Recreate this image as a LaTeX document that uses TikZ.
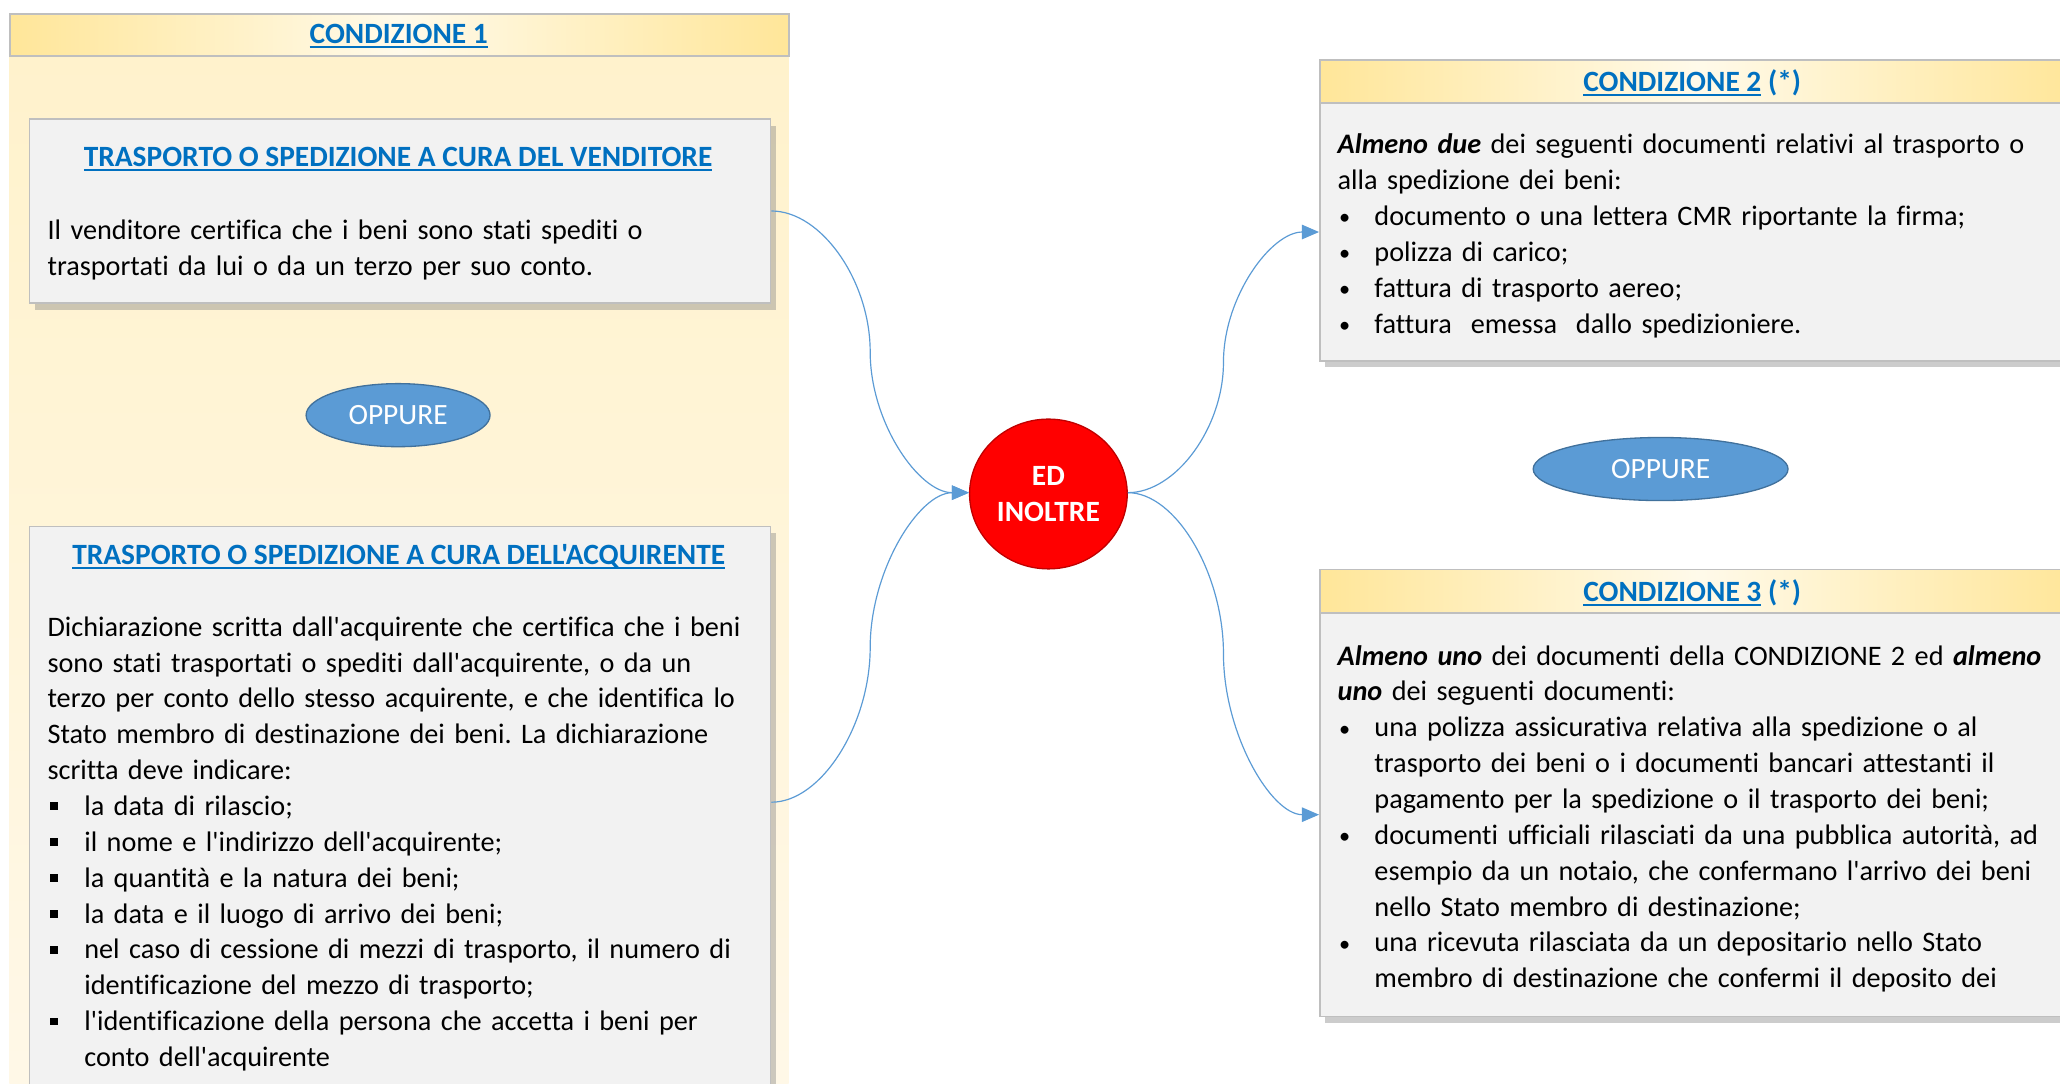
\documentclass[tikz,border=0pt]{standalone}
\usepackage{fontspec}
\setmainfont{Carlito}[Ligatures={TeXOff,NoCommon}]
\usetikzlibrary{arrows.meta,shadows,shapes.geometric,calc}
\definecolor{gold}{HTML}{FFE699}
\definecolor{goldlight}{HTML}{FFFAEA}
\definecolor{beige}{HTML}{FFF2CC}
\definecolor{beigelight}{HTML}{FFF8E8}
\definecolor{boxfill}{HTML}{F2F2F2}
\definecolor{gborder}{HTML}{BFBFBF}
\definecolor{ttlblue}{HTML}{0070C0}
\definecolor{connblue}{HTML}{5B9BD5}
\definecolor{ovalborder}{HTML}{41719C}
\definecolor{redborder}{HTML}{C00000}
\frenchspacing
\newcommand\bodyfont{\fontsize{21.5}{27.3}\selectfont}
\newcommand\ttlfont{\fontsize{22.4}{27.3}\selectfont}
\newcommand\uln[1]{\setbox0\hbox{#1}\rlap{\rule[-3.2pt]{\wd0}{1.5pt}}\box0\relax}
\newcommand\sqb{\makebox[28pt][l]{\hspace{2pt}\rule[4pt]{6pt}{6pt}}}
\newcommand\rdb{\makebox[28pt][l]{\hspace{1pt}{\fontsize{17}{17}\selectfont\raisebox{0.6pt}{•}}}}
\newcommand\ind{\hspace*{28pt}}
\newcommand\bi[1]{\textbf{\textit{#1}}}
\begin{document}
\begin{tikzpicture}[x=1pt,y=-1pt,
  hdr/.style={draw=gborder,line width=1.2pt,left color=gold,right color=gold,middle color=goldlight,anchor=north west,inner sep=0pt},
  panel/.style={top color=beige,bottom color=beigelight,anchor=north west,inner sep=0pt},
  gbox/.style={draw=gborder,line width=1.2pt,fill=boxfill,anchor=north west,inner sep=0pt,
    drop shadow={shadow xshift=4pt,shadow yshift=-5pt,opacity=0.4,fill=black!50}},
  ttl/.style={anchor=base,inner sep=0pt,text=ttlblue,font=\ttlfont\bfseries},
  txt/.style={anchor=north west,inner sep=0pt,align=left,text width=560pt,font=\bodyfont},
  oval/.style={ellipse,fill=connblue,draw=ovalborder,line width=1pt,inner sep=0pt,text=white,font=\ttlfont},
  redc/.style={ellipse,fill=red,draw=redborder,line width=1pt,inner sep=0pt,text=white,align=center,
    font=\fontsize{22.4}{28}\selectfont\bfseries},
  conn/.style={draw=connblue,line width=0.9pt,-{Triangle[length=13pt,width=11pt]}}]
\clip (0,0) rectangle (1568,825);
\fill[white] (0,0) rectangle (1568,825);
% Condizione 1
\node[panel,minimum width=593pt,minimum height=800pt] (p1) at (7,42) {};
\node[hdr,minimum width=593pt,minimum height=32pt] (h1) at (7,10) {};
\node[ttl] (h1t) at (303.5,33) {\uln{CONDIZIONE 1}};
% box 1
\node[gbox,minimum width=564pt,minimum height=140pt] (b1) at (22,90) {};
\node[ttl] (b1h) at (303,127) {\uln{TRASPORTO O SPEDIZIONE A CURA DEL VENDITORE}};
\node[txt] (b1b) at (36,162.9) {\strut Il venditore certifica che i beni sono stati spediti o\\
trasportati da lui o da un terzo per suo conto.};
% oppure 1
\node[oval,minimum width=140pt,minimum height=48pt] (o1) at (303,316) {OPPURE};
% box 2
\node[gbox,minimum width=564pt,minimum height=440pt] (b2) at (22,400) {};
\node[ttl] (b2h) at (303.5,430) {\uln{TRASPORTO O SPEDIZIONE A CURA DELL'ACQUIRENTE}};
\node[txt] (b2b) at (36,464.9) {\strut Dichiarazione scritta dall'acquirente che certifica che i beni\\
sono stati trasportati o spediti dall'acquirente, o da un\\
terzo per conto dello stesso acquirente, e che identifica lo\\
Stato membro di destinazione dei beni. La dichiarazione\\
scritta deve indicare:\\
\sqb la data di rilascio;\\
\sqb il nome e l'indirizzo dell'acquirente;\\
\sqb la quantità e la natura dei beni;\\
\sqb la data e il luogo di arrivo dei beni;\\
\sqb nel caso di cessione di mezzi di trasporto, il numero di\\
\ind identificazione del mezzo di trasporto;\\
\sqb l'identificazione della persona che accetta i beni per\\
\ind conto dell'acquirente};
% centre
\node[redc,minimum width=120pt,minimum height=114pt] (c) at (798,376) {ED\\INOLTRE};
% Condizione 2
\node[gbox,minimum width=575pt,minimum height=196pt] (c2) at (1004,78) {};
\node[hdr,minimum width=575pt,minimum height=33pt] (h2) at (1004,45) {};
\node[ttl] (h2t) at (1288,70) {\uln{CONDIZIONE 2} (*)};
\node[txt] (c2b) at (1018,97.9) {\strut \bi{Almeno due} dei seguenti documenti relativi al trasporto o\\
alla spedizione dei beni:\\
\rdb documento o una lettera CMR riportante la firma;\\
\rdb polizza di carico;\\
\rdb fattura di trasporto aereo;\\
\rdb fattura\ \ emessa\ \ dallo spedizioniere.};
% oppure 2
\node[oval,minimum width=194pt,minimum height=48pt] (o2) at (1264,357) {OPPURE};
% Condizione 3
\node[gbox,minimum width=575pt,minimum height=307pt] (c3) at (1004,466) {};
\node[hdr,minimum width=575pt,minimum height=33pt] (h3) at (1004,433) {};
\node[ttl] (h3t) at (1288,458) {\uln{CONDIZIONE 3} (*)};
\node[txt] (c3b) at (1018,486.9) {\strut \bi{Almeno uno} dei documenti della CONDIZIONE 2 ed \bi{almeno}\\
\bi{uno} dei seguenti documenti:\\
\rdb una polizza assicurativa relativa alla spedizione o al\\
\ind trasporto dei beni o i documenti bancari attestanti il\\
\ind pagamento per la spedizione o il trasporto dei beni;\\
\rdb documenti ufficiali rilasciati da una pubblica autorità, ad\\
\ind esempio da un notaio, che confermano l'arrivo dei beni\\
\ind nello Stato membro di destinazione;\\
\rdb una ricevuta rilasciata da un depositario nello Stato\\
\ind membro di destinazione che confermi il deposito dei};
% connectors
\coordinate (s2) at ([yshift=10pt]b2.east);
\coordinate (e1) at (c.west |- 0,375);
\coordinate (e0) at (c.east |- 0,375);
\coordinate (m1) at ($(b1.east)!0.5!(e1)$);
\coordinate (m2) at ($(s2)!0.5!(e1)$);
\coordinate (m3) at ($(e0)!0.5!(c2.west)$);
\coordinate (m4) at ($(e0)!0.5!(c3.west)$);
\draw[conn] (b1.east) .. controls +(38,0) and +(0,-54) .. (m1) .. controls +(0,54) and +(-38,0) .. (e1);
\draw[conn] (s2) .. controls +(38,0) and +(0,58.75) .. (m2) .. controls +(0,-58.75) and +(-38,0) .. (e1);
\draw[conn] (e0) .. controls +(36.5,0) and +(0,49.75) .. (m3) .. controls +(0,-49.75) and +(-36.5,0) .. (c2.west);
\draw[conn] (e0) .. controls +(36.5,0) and +(0,-61) .. (m4) .. controls +(0,61) and +(-36.5,0) .. (c3.west);
\end{tikzpicture}
\end{document}
